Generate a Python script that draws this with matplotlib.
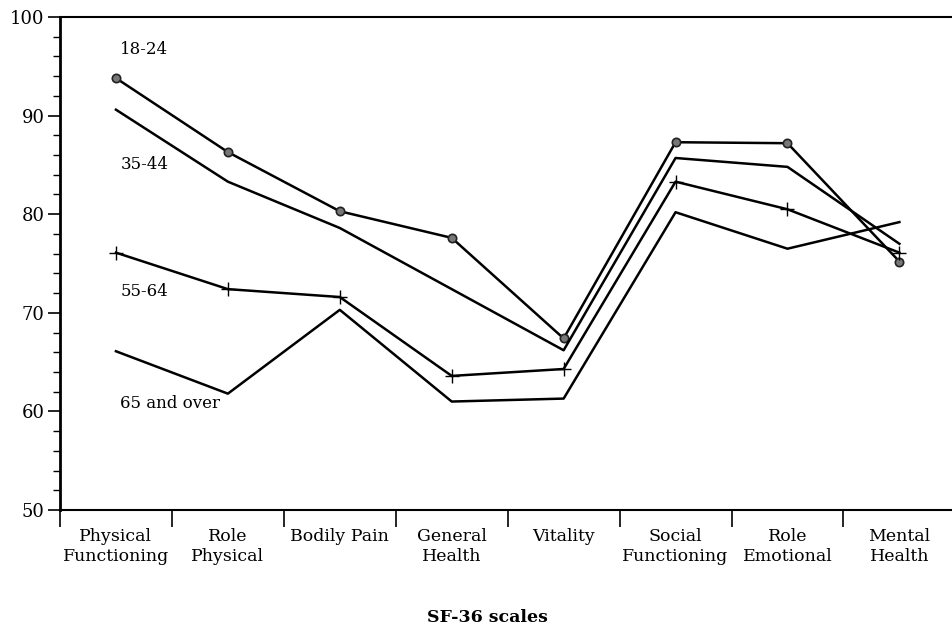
import matplotlib
matplotlib.use("Agg")
import matplotlib.pyplot as plt
from matplotlib.ticker import MultipleLocator, FixedLocator, NullFormatter

# SF-36 scale profiles by age group
scales = ["Physical\nFunctioning", "Role\nPhysical", "Bodily Pain", "General\nHealth",
          "Vitality", "Social\nFunctioning", "Role\nEmotional", "Mental\nHealth"]

age_18_24 = [93.8, 86.3, 80.3, 77.6, 67.4, 87.3, 87.2, 75.2]
age_35_44 = [90.6, 83.3, 78.6, 72.4, 66.2, 85.7, 84.8, 77.0]
age_55_64 = [76.1, 72.4, 71.6, 63.6, 64.3, 83.3, 80.5, 76.1]
age_65_up = [66.1, 61.8, 70.3, 61.0, 61.3, 80.2, 76.5, 79.2]

group_labels = ["18-24", "35-44", "55-64", "65 and over"]
label_y = [96.7, 85.0, 72.2, 60.85]

plt.rcParams['font.family'] = ['DejaVu Serif']

fig = plt.figure(figsize=(9.52, 6.32), dpi=100)
ax = fig.add_axes([60 / 952, 1 - 510 / 632, 1 - 60 / 952, (510 - 17) / 632])

x = list(range(len(scales)))
lw = 1.8

ax.plot(x, age_18_24, color='black', lw=lw, marker='o', markersize=6,
        markerfacecolor='#777777', markeredgecolor='#222222', markeredgewidth=1.2)
ax.plot(x, age_35_44, color='black', lw=lw)
ax.plot(x, age_55_64, color='black', lw=lw, marker='+', markersize=10,
        markeredgewidth=1.0)
ax.plot(x, age_65_up, color='black', lw=lw)

for lab, yy in zip(group_labels, label_y):
    ax.text(0.04, yy, lab, fontsize=12, va='center', ha='left')

ax.set_xlim(-0.5, 7.47)
ax.set_ylim(50, 100)

# y axis
ax.yaxis.set_major_locator(MultipleLocator(10))
ax.yaxis.set_minor_locator(MultipleLocator(2))
ax.tick_params(axis='y', which='major', length=9, width=1.2, labelsize=13, direction='out', pad=2)
ax.tick_params(axis='y', which='minor', length=5, width=1.0, direction='out')

# x axis: ticks between categories, labels centered on categories
ax.xaxis.set_major_locator(FixedLocator([i - 0.5 for i in range(len(scales))]))
ax.xaxis.set_major_formatter(NullFormatter())
ax.xaxis.set_minor_locator(FixedLocator(x))
ax.set_xticklabels(scales, minor=True)
ax.tick_params(axis='x', which='major', length=12, width=1.2, direction='out')
ax.tick_params(axis='x', which='minor', length=0, labelsize=12.5, pad=13)
for t in ax.get_xticklabels(minor=True):
    t.set_linespacing(1.2)

ax.spines['right'].set_visible(False)
ax.spines['left'].set_linewidth(2.0)
ax.spines['bottom'].set_linewidth(1.5)
ax.spines['top'].set_linewidth(1.5)

fig.text(487 / 952, 1 - 617 / 632, "SF-36 scales", fontsize=12.5, fontweight='bold',
         ha='center', va='center')

fig.savefig("out.png", dpi=100)
